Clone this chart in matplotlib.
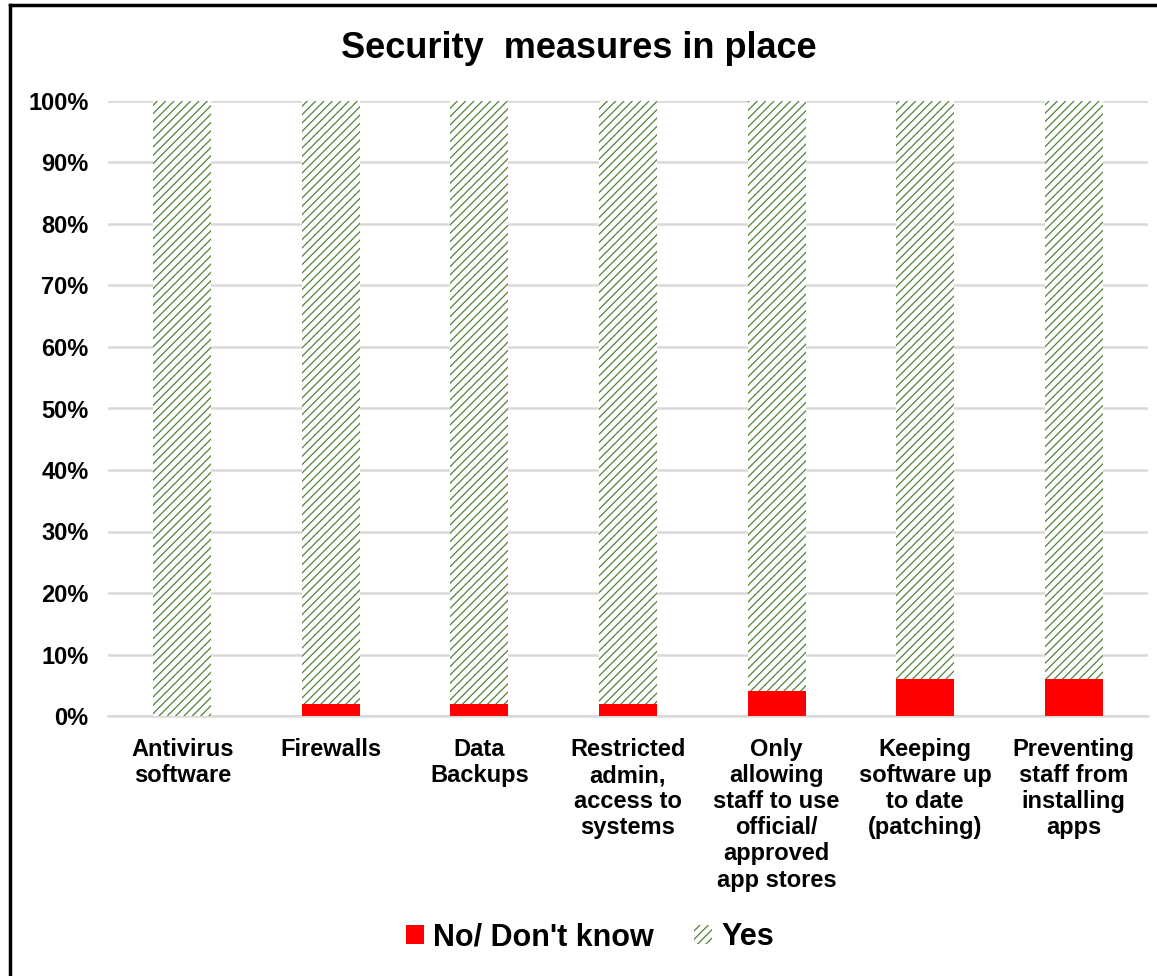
import matplotlib.pyplot as plt
from matplotlib.lines import Line2D

plt.rcParams['font.family'] = ['Liberation Sans', 'DejaVu Sans']
plt.rcParams['hatch.linewidth'] = 0.9

categories = [
    "Antivirus\nsoftware",
    "Firewalls",
    "Data\nBackups",
    "Restricted\nadmin,\naccess to\nsystems",
    "Only\nallowing\nstaff to use\nofficial/\napproved\napp stores",
    "Keeping\nsoftware up\nto date\n(patching)",
    "Preventing\nstaff from\ninstalling\napps",
]
no_dont_know = [0, 2, 2, 2, 4, 6, 6]
yes = [100, 98, 98, 98, 96, 94, 94]

RED = "#ff0000"
GREEN = "#548235"

fig = plt.figure(figsize=(11.57, 9.76), dpi=100)
ax = fig.add_axes([108 / 1157, 1 - 716 / 976, 1040 / 1157, 615 / 976])

x = range(len(categories))
ax.bar(x, no_dont_know, width=0.39, color=RED, label="No/ Don't know", zorder=3)
ax.bar(x, yes, width=0.39, bottom=no_dont_know, facecolor="white",
       edgecolor=GREEN, hatch="////", linewidth=0, label="Yes", zorder=3)

ax.set_xlim(-0.5, len(categories) - 0.5)
ax.set_ylim(0, 100)
ax.set_yticks(range(0, 101, 10))
ax.set_yticklabels([f"{v}%" for v in range(0, 101, 10)], fontsize=17,
                   fontweight="bold")
ax.set_xticks(list(x))
ax.set_xticklabels(categories, fontsize=17, fontweight="bold",
                   linespacing=1.17, va="top")
ax.tick_params(axis="both", length=0)
ax.tick_params(axis="x", pad=16)
ax.tick_params(axis="y", pad=14)
ax.yaxis.grid(True, color="#d9d9d9", linewidth=1.8, zorder=0)
for s in ["top", "right", "left"]:
    ax.spines[s].set_visible(False)
ax.spines["bottom"].set_color("#d9d9d9")
ax.spines["bottom"].set_linewidth(1.8)

fig.text(0.5, 1 - 49 / 976, "Security  measures in place", ha="center",
         va="center", fontsize=26, fontweight="bold")

leg = fig.legend(loc="center", bbox_to_anchor=(0.51, 1 - 937 / 976), ncol=2,
                 frameon=False, prop={"size": 22, "weight": "bold"},
                 handlelength=0.6, handleheight=0.6, handletextpad=0.3,
                 columnspacing=1.3)

# frame around the chart (top and left edges visible)
fig.add_artist(Line2D([10 / 1157, 10 / 1157], [0, 1 - 5 / 976],
                      transform=fig.transFigure, color="black", lw=2.5))
fig.add_artist(Line2D([10 / 1157, 1], [1 - 5 / 976, 1 - 5 / 976],
                      transform=fig.transFigure, color="black", lw=2.5))

fig.savefig("out.png", dpi=100)
